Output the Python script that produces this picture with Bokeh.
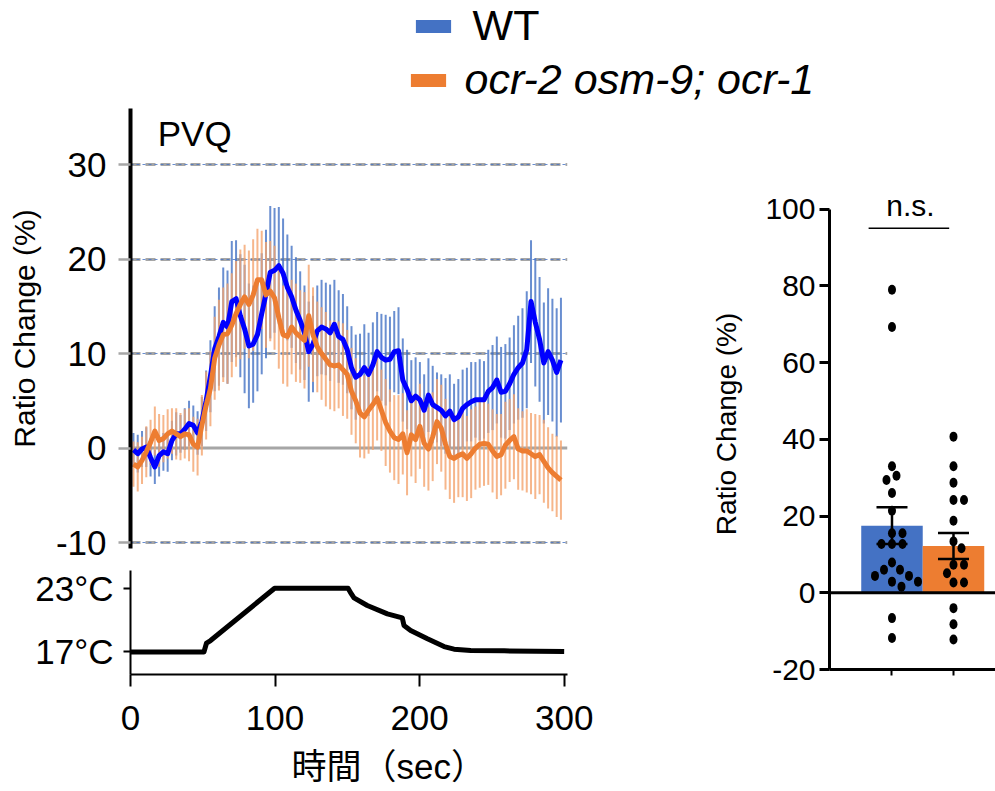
import numpy as np
from bokeh.plotting import figure
from bokeh.models import (ColumnDataSource, Legend, LegendItem, Label, FixedTicker,
                          Span, Grid, Whisker, TeeHead, Range1d)
from bokeh.layouts import column, row
from bokeh.embed import file_html
from bokeh.resources import INLINE

FONT = "Liberation Sans"
CJK_FONT = "Liberation Sans, Noto Sans CJK JP"
BLUE = "#4472C4"
ORANGE = "#ED7D31"

# ---------------- data ----------------
groups = ["WT", "ocr-2 osm-9; ocr-1"]

time_s = list(range(0, 301, 3))
wt_mean = [-0.2, -0.6, -0.1, 0.1, -1.0, -2.0, -0.8, -0.4, -0.6, 0.8,
           1.5, 1.5, 2.0, 2.6, 2.4, 1.6, 2.8, 5.0, 7.6, 10.5,
           11.8, 13.3, 12.8, 15.5, 15.8, 14.0, 12.6, 10.8, 11.0, 12.0,
           14.2, 16.3, 18.6, 18.8, 19.3, 18.5, 17.0, 16.0, 14.6, 13.5,
           12.2, 10.2, 11.0, 12.4, 12.8, 12.6, 12.2, 13.1, 11.8, 11.5,
           10.4, 8.5, 7.5, 7.8, 8.5, 7.8, 8.8, 10.2, 9.6, 9.3,
           9.4, 10.2, 10.3, 7.2, 6.2, 5.0, 5.5, 5.1, 4.0, 5.6,
           4.6, 4.3, 4.0, 3.4, 3.9, 3.0, 3.3, 4.2, 4.6, 4.9,
           5.1, 5.1, 5.1, 6.0, 6.4, 7.2, 5.9, 6.0, 6.8, 7.8,
           8.5, 9.0, 10.4, 15.5, 13.3, 11.5, 9.0, 10.2, 9.3, 8.0,
           9.3]
wt_sem = [1.8, 2.0, 1.9, 2.1, 2.0, 1.8, 2.2, 2.0, 1.9, 2.1, 2.3, 2.0, 2.2, 2.4, 2.1, 2.3,
          2.6, 3.2, 3.8, 4.5, 5.2, 5.8, 6.0, 6.4, 6.2,
          6.5, 6.8, 6.6, 6.2, 6.0, 6.4, 6.8, 7.0, 6.6, 6.2, 5.8,
          5.6, 5.4, 5.6, 5.2, 5.0, 5.3, 5.1, 4.8, 5.0, 4.9, 5.1, 4.7, 4.9, 4.8, 4.6,
          4.4, 4.5, 4.3, 4.6, 4.4, 4.5, 4.2, 4.6, 4.8, 4.5, 4.3, 4.6, 4.4, 4.2, 4.3, 4.1,
          4.0, 3.8, 3.9, 4.1, 3.7, 3.8, 4.0, 3.9, 3.8, 4.0, 4.1, 3.9, 4.2, 4.0, 4.3, 4.1, 4.4,
          4.5, 4.6, 4.8, 5.0, 4.9, 5.2, 5.5, 5.8, 6.2, 6.5, 6.8, 6.6, 6.4, 6.7, 6.5, 6.8, 6.6]
mut_mean = [-1.7, -2.0, -1.3, -0.4, 0.6, 1.8, 0.8, 1.0, 1.5, 1.8,
            1.5, 1.2, 1.5, 1.4, 0.4, 0.1, 2.4, 4.5, 6.3, 9.5,
            10.9, 12.0, 12.1, 13.0, 14.2, 15.2, 16.0, 15.2, 16.2, 17.8,
            17.8, 16.2, 16.6, 15.9, 13.8, 12.0, 11.8, 12.8, 12.2, 11.8,
            11.4, 14.0, 12.0, 10.7, 10.0, 9.4, 8.8, 8.7, 8.8, 8.3,
            7.8, 6.0, 5.0, 3.7, 3.3, 4.0, 4.6, 5.3, 4.0, 2.7,
            1.8, 1.1, 0.9, 1.5, -0.5, 1.4, 0.9, 2.3, 0.5, -0.1,
            1.2, 2.8, 2.1, 0.4, -0.9, -1.1, -0.8, -0.6, -1.1, -0.6,
            0.0, 0.4, 0.5, 0.4, -0.3, -0.9, -0.7, 0.3, 0.8, 1.2,
            -0.1, -0.3, -0.3, -0.6, -0.9, -0.7, -1.4, -2.1, -2.6, -3.0,
            -3.4]
mut_sem = [2.4, 2.6, 2.5, 2.7, 2.4, 2.6, 2.8, 2.5, 2.6, 2.4, 2.7, 2.5, 2.6, 2.8, 2.9, 3.0,
           3.2, 3.6, 4.0, 4.4, 4.8, 5.0, 5.3, 5.5, 5.6,
           5.8, 5.5, 5.7, 5.9, 5.4, 5.2, 5.6, 5.3, 5.5, 5.4, 5.2,
           5.3, 5.0, 5.2, 4.9, 5.1, 5.4, 5.0, 4.8, 4.9, 5.0, 4.7, 4.8, 4.6, 4.9, 4.7,
           4.6, 4.5, 4.7, 4.4, 4.6, 4.8, 4.5, 4.3, 4.6, 4.4, 4.5, 4.7, 4.3, 4.5, 4.4, 4.6,
           4.5, 4.6, 4.4, 4.7, 4.5, 4.6, 4.8, 4.5, 4.7, 4.4, 4.6, 4.5, 4.7, 4.4, 4.6, 4.5, 4.3,
           4.4, 4.5, 4.3, 4.6, 4.4, 4.5, 4.3, 4.2, 4.4, 4.3, 4.5, 4.2, 4.4, 4.3, 4.1, 4.3, 4.2]

temp_time = [0, 50.8, 52.6, 55.4, 99.7, 150.5, 152.8, 154.6, 163.8, 177.7, 188.0,
             189.2, 193.8, 205.4, 216.9, 223.8, 235.4, 258.5, 300]
temp_c = [16.95, 16.95, 17.8, 18.04, 23.0, 23.0, 22.46, 22.08, 21.36, 20.57, 20.19,
          19.46, 18.99, 18.2, 17.47, 17.22, 17.09, 17.06, 17.0]

wt_points = [79.0, 69.3, 33.0, 30.5, 29.4, 26.0, 21.4, 15.5, 15.5, 12.7, 12.7, 12.7,
             7.9, 6.0, 6.0, 4.4, 4.4, 2.9, 2.9, 1.6, -6.6, -11.8]
mut_points = [40.7, 33.0, 28.7, 24.2, 24.2, 18.8, 13.4, 11.6, 7.3, 7.3, 5.1, 2.7, 2.7,
              -4.0, -8.2, -12.2]
bar_mean = [17.5, 12.2]
bar_sem = [4.8, 3.4]
sig_text = "n.s."
sig_y = 95.0

main_ticks = [-10, 0, 10, 20, 30]
temp_ticks = [17, 23]
temp_labels = ["17°C", "23°C"]
time_ticks = [0, 100, 200, 300]
time_title = "時間（sec）"
bar_ticks = [-20, 0, 20, 40, 60, 80, 100]


def style_common(p):
    p.outline_line_color = None
    p.background_fill_color = None
    p.border_fill_color = None


def black_text(ax):
    ax.major_label_text_color = "black"
    ax.axis_label_text_color = "black"
    ax.axis_line_color = "black"


# ---------------- legend strip ----------------
lf = figure(width=987, height=108, output_backend="svg", toolbar_location=None,
            x_range=(0, 1), y_range=(0, 1), x_axis_location=None, y_axis_location=None,
            min_border=0)
style_common(lf)
lf.grid.visible = False
r_wt = lf.rect(x=[-5], y=[-5], width=1, height=1, fill_color=BLUE, line_color=None)
r_mut = lf.rect(x=[-5], y=[-5], width=1, height=1, fill_color=ORANGE, line_color=None)
common_leg = dict(padding=0, margin=0, border_line_color=None, background_fill_alpha=0,
                  glyph_width=44, glyph_height=16, label_text_font_size="43px",
                  label_height=44, label_text_font=FONT, label_text_color="black",
                  spacing=0)
leg_wt = Legend(items=[LegendItem(label=groups[0], renderers=[r_wt])],
                location=(410.6, 58), label_standoff=18, **common_leg)
leg_mut = Legend(items=[LegendItem(label=groups[1], renderers=[r_mut])],
                 location=(405.6, 4), label_standoff=15,
                 label_text_font_style="italic", **common_leg)
lf.add_layout(leg_wt)
lf.add_layout(leg_mut)

# ---------------- main trace panel ----------------
mf = figure(width=708, height=458, output_backend="svg", toolbar_location=None,
            x_range=Range1d(-2.08, 304.6), y_range=Range1d(-10.63, 35.93),
            x_axis_location=None, min_border_left=127, min_border_right=138,
            min_border_top=0, min_border_bottom=18)
style_common(mf)
mf.xgrid.visible = False
black_text(mf.yaxis)
mf.yaxis.ticker = FixedTicker(ticks=main_ticks)
mf.yaxis.major_label_overrides = {-10: "-10"}
mf.yaxis.axis_line_width = 4
mf.yaxis.major_tick_out = 12
mf.yaxis.major_tick_in = 0
mf.yaxis.major_tick_line_color = "#a6a6a6"
mf.yaxis.major_tick_line_width = 2.5
mf.yaxis.minor_tick_line_color = None
mf.yaxis.major_label_text_font_size = "35px"
mf.yaxis.major_label_text_font = FONT
mf.yaxis.major_label_standoff = 12
mf.yaxis.axis_label = "Ratio Change (%)"
mf.yaxis.axis_label_text_font_size = "30px"
mf.yaxis.axis_label_text_font_style = "normal"
mf.yaxis.axis_label_text_font = FONT
mf.yaxis.axis_label_standoff = 12

mf.ygrid.ticker = FixedTicker(ticks=[-10, 10, 20, 30])
mf.ygrid.grid_line_color = "#a6a6a6"
mf.ygrid.grid_line_width = 3
mf.ygrid.grid_line_dash = "10 5"
mf.add_layout(Grid(dimension=1, ticker=FixedTicker(ticks=[-10, 10, 20, 30]),
                   grid_line_color=BLUE, grid_line_width=1, grid_line_dash="3 3",
                   grid_line_alpha=0.8))
mf.add_layout(Span(location=0, dimension="width", line_color="#a6a6a6",
                   line_width=3, level="underlay"))

wt_arr = np.array(wt_mean)
mut_arr = np.array(mut_mean)
src_wt = ColumnDataSource(dict(t=time_s, m=wt_mean, lo=wt_arr - np.array(wt_sem),
                               hi=wt_arr + np.array(wt_sem)))
src_mut = ColumnDataSource(dict(t=time_s, m=mut_mean, lo=mut_arr - np.array(mut_sem),
                                hi=mut_arr + np.array(mut_sem)))
mf.segment(x0="t", y0="lo", x1="t", y1="hi", source=src_wt, line_color=BLUE,
           line_width=2, line_alpha=0.8)
mf.segment(x0="t", y0="lo", x1="t", y1="hi", source=src_mut, line_color="#F4A46E",
           line_width=2, line_alpha=0.8)
mf.line("t", "m", source=src_wt, line_color="#0000FF", line_width=5, line_join="round")
mf.line("t", "m", source=src_mut, line_color=ORANGE, line_width=5, line_join="round")
mf.add_layout(Label(x=17, y=35.4, text="PVQ", text_font_size="35px", text_font=FONT,
                    text_color="black", text_baseline="top", text_align="left"))

# ---------------- temperature panel ----------------
tf = figure(width=708, height=224, output_backend="svg", toolbar_location=None,
            x_range=Range1d(0, 302.3), y_range=Range1d(14.82, 24.68),
            min_border_left=130, min_border_right=141, min_border_top=4,
            min_border_bottom=116)
style_common(tf)
tf.grid.visible = False
tf.line(temp_time, temp_c, line_color="black", line_width=5, line_join="round")
tf.xaxis.ticker = FixedTicker(ticks=time_ticks)
tf.yaxis.ticker = FixedTicker(ticks=temp_ticks)
tf.yaxis.major_label_overrides = dict(zip(temp_ticks, temp_labels))
for ax in (tf.xaxis, tf.yaxis):
    black_text(ax)
    ax.axis_line_width = 2
    ax.major_tick_in = 0
    ax.major_tick_line_width = 2
    ax.minor_tick_line_color = None
    ax.major_label_text_font_size = "35px"
    ax.major_label_text_font = FONT
tf.xaxis.major_tick_out = 12
tf.xaxis.major_label_standoff = 19
tf.yaxis.major_tick_out = 7
tf.yaxis.major_label_standoff = 10
# leading (non-collapsing) spaces shift the centred title to the right, as in the original
tf.xaxis.axis_label = "\u3000\u3000\u00a0" + time_title
tf.xaxis.axis_label_text_font_size = "35px"
tf.xaxis.axis_label_text_font_style = "normal"
tf.xaxis.axis_label_text_font = CJK_FONT
tf.xaxis.axis_label_standoff = 14

# ---------------- bar chart ----------------
bf = figure(width=287, height=581, output_backend="svg", toolbar_location=None,
            x_range=Range1d(-0.016, 2.683), y_range=Range1d(-20, 108),
            min_border_left=121, min_border_right=0, min_border_top=70,
            min_border_bottom=20)
style_common(bf)
bf.grid.visible = False
black_text(bf.yaxis)
bf.yaxis.bounds = (-20, 100)
bf.yaxis.ticker = FixedTicker(ticks=bar_ticks)
bf.yaxis.major_label_overrides = {-20: "-20"}
bf.yaxis.axis_line_width = 3
bf.yaxis.major_tick_out = 10
bf.yaxis.major_tick_in = 0
bf.yaxis.major_tick_line_width = 3
bf.yaxis.minor_tick_line_color = None
bf.yaxis.major_label_text_font_size = "30px"
bf.yaxis.major_label_text_font = FONT
bf.yaxis.major_label_standoff = 4
bf.yaxis.axis_label = "Ratio Change (%)"
bf.yaxis.axis_label_text_font_size = "28px"
bf.yaxis.axis_label_text_font_style = "normal"
bf.yaxis.axis_label_text_font = FONT
bf.yaxis.axis_label_standoff = 20

bar_x = [1, 2]
black_text(bf.xaxis)
bf.xaxis.ticker = FixedTicker(ticks=bar_x)
bf.xaxis.major_label_overrides = {1: "", 2: ""}
bf.xaxis.axis_line_width = 3
bf.xaxis.major_tick_out = 6
bf.xaxis.major_tick_in = 0
bf.xaxis.major_tick_line_width = 2
bf.xaxis.minor_tick_line_color = None

bf.vbar(x=bar_x, top=bar_mean, bottom=0, width=1.0, fill_color=[BLUE, ORANGE],
        line_color=None)
bf.add_layout(Span(location=0, dimension="width", line_color="black", line_width=3))


def swarm_offsets(vals, ypx, xpx, d=10.5):
    placed = []
    out = []
    for v in vals:
        y = v * ypx
        chosen = 0.0
        for k in range(0, 400):
            found = False
            for sgn in ([0] if k == 0 else [1, -1]):
                x = sgn * k * 0.5
                if all((x - px) ** 2 + (y - py) ** 2 >= d * d for px, py in placed):
                    chosen = x
                    found = True
                    break
            if found:
                break
        placed.append((chosen, y))
        out.append(chosen / xpx)
    return out


ypx = 491 / 128.0
xpx = 166 / (2.683 + 0.016)
for xc, pts in zip(bar_x, [wt_points, mut_points]):
    offs = swarm_offsets(pts, ypx, xpx)
    bf.ellipse(x=[xc + o for o in offs], y=pts, width=8, height=10,
               width_units="screen", height_units="screen",
               fill_color="black", line_color=None)

wsrc = ColumnDataSource(dict(x=bar_x, up=np.array(bar_mean) + np.array(bar_sem),
                             lo=np.array(bar_mean) - np.array(bar_sem)))
bf.add_layout(Whisker(source=wsrc, base="x", upper="up", lower="lo", line_width=2.5,
                      level="overlay",
                      upper_head=TeeHead(size=31, line_width=2.5),
                      lower_head=TeeHead(size=31, line_width=2.5)))
bf.segment(x0=[0.62], y0=[sig_y], x1=[1.93], y1=[sig_y], line_color="black",
           line_width=1.5)
bf.add_layout(Label(x=1.3, y=101.0, text=sig_text, text_font_size="30px", text_font=FONT,
                    text_color="black", text_align="center", text_baseline="alphabetic"))

layout = column(lf, row(column(mf, tf), bf))
open("out.html", "w").write(file_html(layout, INLINE))
